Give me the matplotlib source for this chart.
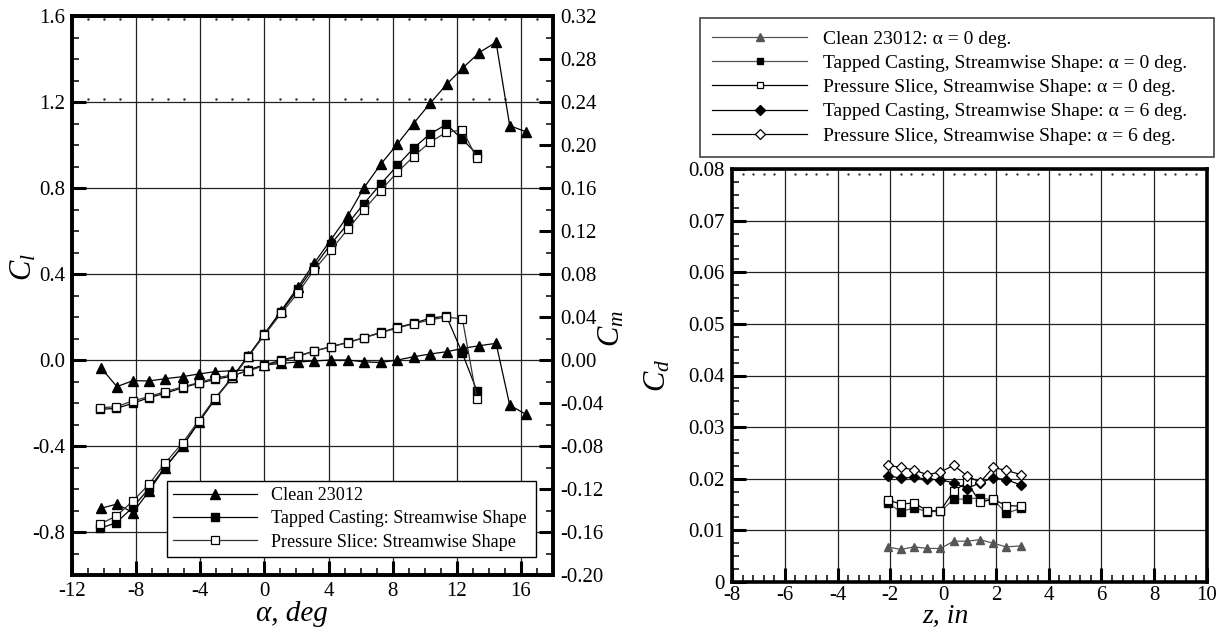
import matplotlib
matplotlib.use("Agg")
import matplotlib.pyplot as plt
from matplotlib.ticker import MultipleLocator, FuncFormatter

plt.rcParams['font.family'] = ['Liberation Serif', 'DejaVu Serif']
plt.rcParams['mathtext.fontset'] = 'custom'
plt.rcParams['mathtext.rm'] = 'Liberation Serif'
plt.rcParams['mathtext.it'] = 'Liberation Serif:italic'

# ---- Lift / moment data -------------------------------------------------
alpha_clean = [-10.2, -9.2, -8.2, -7.2, -6.2, -5.1, -4.1, -3.1, -2.0, -1.0, 0.0,
               1.05, 2.1, 3.1, 4.15, 5.2, 6.2, 7.25, 8.3, 9.3, 10.35, 11.4,
               12.4, 13.4, 14.45, 15.3, 16.3]
cl_clean = [-0.69, -0.67, -0.71, -0.61, -0.50, -0.40, -0.29, -0.18, -0.08, 0.02,
            0.12, 0.23, 0.34, 0.45, 0.56, 0.67, 0.80, 0.91, 1.005, 1.10, 1.195,
            1.285, 1.36, 1.43, 1.478, 1.09, 1.062]
cm_clean = [-0.0071, -0.0248, -0.0192, -0.0195, -0.0174, -0.0155, -0.0130,
            -0.0109, -0.0099, -0.0093, -0.0047, -0.0031, -0.0019, -0.0009,
            0.0, 0.0, -0.0017, -0.0023, 0.0, 0.0030, 0.0056, 0.0078, 0.0109,
            0.0133, 0.0155, -0.0419, -0.0505]

alpha_ice = [-10.25, -9.25, -8.2, -7.2, -6.2, -5.1, -4.1, -3.05, -2.0, -1.0, 0.0,
             1.05, 2.1, 3.1, 4.15, 5.2, 6.2, 7.25, 8.3, 9.3, 10.3, 11.35, 12.35,
             13.25]
cl_tapped = [-0.783, -0.757, -0.685, -0.597, -0.50, -0.40, -0.29, -0.18, -0.08,
             0.019, 0.121, 0.225, 0.329, 0.434, 0.54, 0.633, 0.727, 0.818, 0.905,
             0.985, 1.05, 1.096, 1.026, 0.958]
cl_slice = [-0.763, -0.726, -0.656, -0.578, -0.48, -0.385, -0.282, -0.175,
            -0.085, 0.016, 0.116, 0.217, 0.313, 0.419, 0.512, 0.608, 0.699,
            0.788, 0.874, 0.946, 1.012, 1.059, 1.07, 0.938]
cm_tapped = [-0.0459, -0.0450, -0.0403, -0.0350, -0.0310, -0.0257, -0.0217,
             -0.0180, -0.0149, -0.0093, -0.0047, 0.0, 0.0037, 0.0084, 0.0124,
             0.0164, 0.0208, 0.0257, 0.0304, 0.0341, 0.0388, 0.0409, 0.0062,
             -0.0285]
cm_slice = [-0.0445, -0.0434, -0.0381, -0.0340, -0.0295, -0.0250, -0.0211,
            -0.0164, -0.0142, -0.0102, -0.0052, -0.0010, 0.0033, 0.0082, 0.0122,
            0.0162, 0.0205, 0.0253, 0.0298, 0.0336, 0.0372, 0.0400, 0.0381,
            -0.0363]

legend_left = ["Clean 23012",
               "Tapped Casting: Streamwise Shape",
               "Pressure Slice: Streamwise Shape"]

# ---- Drag data ---------------------------------------------------------------
z_span = [-2.1, -1.6, -1.1, -0.6, -0.1, 0.4, 0.9, 1.4, 1.9, 2.4, 2.95]
cd_clean_a0 = [0.0068, 0.0063, 0.0068, 0.0065, 0.0065, 0.0079, 0.0079, 0.0082,
               0.0075, 0.0068, 0.0070]
cd_tapped_a0 = [0.0153, 0.0136, 0.0144, 0.0136, 0.0137, 0.0160, 0.0161, 0.0163,
                0.0159, 0.0133, 0.0143]
cd_slice_a0 = [0.0159, 0.0151, 0.0153, 0.0138, 0.0138, 0.0176, 0.0193, 0.0155,
               0.0160, 0.0148, 0.0147]
cd_tapped_a6 = [0.0206, 0.0201, 0.0203, 0.0199, 0.0198, 0.0192, 0.0181, 0.0192,
                0.0202, 0.0198, 0.0188]
cd_slice_a6 = [0.0226, 0.0222, 0.0217, 0.0208, 0.0213, 0.0226, 0.0206, 0.0193,
               0.0222, 0.0216, 0.0208]

legend_right = ["Clean 23012: \u03b1 = 0 deg.",
                "Tapped Casting, Streamwise Shape: \u03b1 = 0 deg.",
                "Pressure Slice, Streamwise Shape: \u03b1 = 0 deg.",
                "Tapped Casting, Streamwise Shape: \u03b1 = 6 deg.",
                "Pressure Slice, Streamwise Shape: \u03b1 = 6 deg."]

TICK_FS = 15
GRID_C = '#222222'


def style_ticks(axis):
    axis.tick_params(which='major', direction='in', length=10, width=2.2,
                     labelsize=TICK_FS, pad=5)
    axis.tick_params(which='minor', direction='in', length=5, width=1.1)


def fmt(decimals, zero=None):
    def f(v, pos):
        if abs(v) < 1e-9:
            return zero if zero is not None else f"{0:.{decimals}f}"
        return f"{v:.{decimals}f}"
    return FuncFormatter(f)


int_fmt = FuncFormatter(lambda v, p: f"{int(round(v))}")

fig = plt.figure(figsize=(12.2, 6.29), dpi=100)

# ======================= Lift and pitching moment =========================
ax = fig.add_axes([72 / 1220, 1 - 575 / 629, 481 / 1220, 559 / 629])
ax.set_xlim(-12, 18)
ax.set_ylim(-1.0, 1.6)
ax.xaxis.set_major_locator(MultipleLocator(4))
ax.xaxis.set_minor_locator(MultipleLocator(1))
ax.yaxis.set_major_locator(MultipleLocator(0.4))
ax.yaxis.set_minor_locator(MultipleLocator(0.1))
ax.yaxis.set_major_formatter(fmt(1))
ax.xaxis.set_major_formatter(int_fmt)
style_ticks(ax)
ax.tick_params(axis='both', which='both', top=False, right=False)
ax.grid(True, which='major', color=GRID_C, lw=0.9)
ax.set_axisbelow(True)
for s in ax.spines.values():
    s.set_linewidth(2.6)

ax2 = ax.twinx()
ax2.set_ylim(-0.20, 0.32)
ax2.yaxis.set_major_locator(MultipleLocator(0.04))
ax2.yaxis.set_minor_locator(MultipleLocator(0.02))
ax2.yaxis.set_major_formatter(fmt(2))
style_ticks(ax2)
for s in ax2.spines.values():
    s.set_linewidth(2.6)

# dotted minor grid remnants
minor_x = [v for v in range(-11, 18) if v % 4 != 0]
for yv in (1.585, 1.214):
    ax.plot(minor_x, [yv] * len(minor_x), ls='none', marker='.', ms=1.6,
            color='#333333', clip_on=False)

lw = 0.9
h1, = ax.plot(alpha_clean, cl_clean, '-^', color='k', lw=lw, ms=7.5,
              mfc='k', mec='k')
h2, = ax.plot(alpha_ice, cl_tapped, '-s', color='k', lw=lw, ms=6,
              mfc='k', mec='k')
h3, = ax.plot(alpha_ice, cl_slice, '-s', color='#333333', lw=lw, ms=6,
              mfc='white', mec='k', mew=0.9)
ax2.plot(alpha_clean, cm_clean, '-^', color='k', lw=lw, ms=7.5, mfc='k', mec='k')
ax2.plot(alpha_ice, cm_tapped, '-s', color='k', lw=lw, ms=6, mfc='k', mec='k')
ax2.plot(alpha_ice, cm_slice, '-s', color='#333333', lw=lw, ms=6,
         mfc='white', mec='k', mew=0.9)

ax.set_ylabel('$C_l$', fontsize=22, labelpad=0)
ax.yaxis.set_label_coords(-0.069, 0.55)
ax2.set_ylabel('$C_m$', fontsize=22, rotation=90, labelpad=0)
ax2.yaxis.set_label_coords(1.092, 0.44)
ax.set_xlabel('\u03b1, deg', fontsize=21, style='italic', labelpad=0)
ax.xaxis.set_label_coords(0.457, -0.047)

legL = ax2.legend([h1, h2, h3], legend_left, loc='lower left',
                  bbox_to_anchor=(95 / 481, 18 / 559, 369 / 481, 0.14),
                  mode='expand', fontsize=13.1, frameon=True, fancybox=False,
                  framealpha=1, edgecolor='k', handlelength=4.6,
                  handletextpad=0.75, labelspacing=0.34, borderpad=0.35,
                  borderaxespad=0)
legL.get_frame().set_linewidth(1.0)

# ============================ Drag ========================================
bx = fig.add_axes([732 / 1220, 1 - 582 / 629, 475 / 1220, 413 / 629])
bx.set_xlim(-8, 10)
bx.set_ylim(0, 0.08)
bx.xaxis.set_major_locator(MultipleLocator(2))
bx.xaxis.set_minor_locator(MultipleLocator(0.4))
bx.yaxis.set_major_locator(MultipleLocator(0.01))
bx.yaxis.set_minor_locator(MultipleLocator(0.0025))
bx.yaxis.set_major_formatter(fmt(2, zero='0'))
bx.xaxis.set_major_formatter(int_fmt)
style_ticks(bx)
bx.tick_params(axis='x', which='major', pad=3)
bx.tick_params(axis='both', which='both', top=False, right=False)
bx.grid(True, which='major', color=GRID_C, lw=0.9)
bx.set_axisbelow(True)
for s in bx.spines.values():
    s.set_linewidth(2.6)

minor_z = [round(-8 + 0.4 * i, 2) for i in range(46)]
minor_z = [v for v in minor_z if abs(v / 2 - round(v / 2)) > 1e-6]
bx.plot(minor_z, [0.0791] * len(minor_z), ls='none', marker='.', ms=1.4,
        color='#333333', clip_on=False)

g1, = bx.plot(z_span, cd_clean_a0, '-^', color='#555555', lw=lw, ms=6,
              mfc='#555555', mec='#555555')
g2, = bx.plot(z_span, cd_tapped_a0, '-s', color='#555555', lw=lw, ms=5.5,
              mfc='k', mec='k')
g3, = bx.plot(z_span, cd_slice_a0, '-s', color='k', lw=lw, ms=5.5,
              mfc='white', mec='k', mew=0.9)
g4, = bx.plot(z_span, cd_tapped_a6, '-D', color='k', lw=lw, ms=5.2,
              mfc='k', mec='k')
g5, = bx.plot(z_span, cd_slice_a6, '-D', color='k', lw=lw, ms=5.2,
              mfc='white', mec='k', mew=0.9)

bx.set_ylabel('$C_d$', fontsize=22, labelpad=0)
bx.yaxis.set_label_coords(-0.125, 0.5)
bx.set_xlabel('z, in', fontsize=20, style='italic', labelpad=0)
bx.xaxis.set_label_coords(0.45, -0.052)

legR = fig.legend([g1, g2, g3, g4, g5], legend_right, loc='upper left',
                  bbox_to_anchor=(700 / 1220, 1 - 156 / 629, 514 / 1220, 138 / 629),
                  mode='expand', fontsize=14, frameon=True, fancybox=False,
                  framealpha=1, edgecolor='#444444', handlelength=4.9,
                  handletextpad=0.8, labelspacing=0.34, borderpad=0.62,
                  borderaxespad=0, markerscale=0.9)
legR.get_frame().set_linewidth(1.2)

fig.savefig('out.png', dpi=100)
